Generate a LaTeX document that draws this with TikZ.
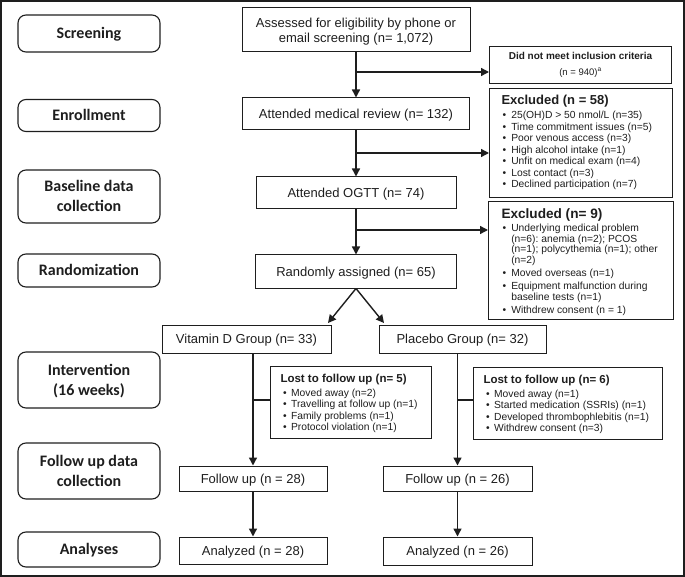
\documentclass[tikz,border=0pt]{standalone}
\usepackage{fontspec}
\setmainfont{Liberation Sans}
\newfontfamily\stagefont{Carlito}
\usetikzlibrary{arrows.meta,calc}
\definecolor{ink}{HTML}{1E1E1E}
\frenchspacing
\newcommand{\bul}{\textbullet}
\newcommand{\twolines}[2]{\begin{tabular}[b]{@{}c@{}}#1\\#2\end{tabular}}
\begin{document}
\begin{tikzpicture}[x=1pt,y=-1pt,
  stagebox/.style={draw=ink, line width=1.1pt, rounded corners=8pt, minimum width=142pt,
    inner sep=0pt, text=ink, font=\stagefont\bfseries\fontsize{16}{20}\selectfont,
    text height=10.3pt, text depth=0pt},
  stagetwo/.style={stagebox, text height=30.3pt},
  mainbox/.style={draw=ink, line width=1pt, inner sep=0pt, text=ink,
    font=\fontsize{13}{15}\selectfont, text height=9.3pt, text depth=0pt},
  maintwo/.style={mainbox, text height=24.3pt},
  sidebox/.style={draw=ink, line width=1pt, anchor=north west, inner ysep=0pt, text=ink,
    font=\fontsize{10.3}{11.5}\selectfont},
  flow/.style={draw=ink, line width=1.4pt},
  arr/.style={flow, -{Triangle[length=8pt,width=8pt]}}
]
\useasboundingbox (0,0) rectangle (685,577);
\draw[ink, line width=1.8pt] (1,1) rectangle (684,576);

% stage boxes
\node[stagebox, minimum height=37pt] (screen) at (89,33.5) {Screening};
\node[stagebox, minimum height=32pt] (enroll) at (89,115.5) {Enrollment};
\node[stagetwo, minimum height=53pt] (base) at (89,196.5) {\twolines{Baseline data}{collection}};
\node[stagebox, minimum height=33pt] (randz) at (89,270.5) {Randomization};
\node[stagetwo, minimum height=56pt] (interv) at (89,380) {\twolines{Intervention}{(16 weeks)}};
\node[stagetwo, minimum height=56pt] (fudc) at (89,471) {\twolines{Follow up data}{collection}};
\node[stagebox, minimum height=35pt] (anal) at (89,549.5) {Analyses};

% main column
\node[maintwo, minimum width=228pt, minimum height=44pt] (assess) at (356,30) {\twolines{Assessed for eligibility by phone or}{email screening (n= 1,072)}};
\node[mainbox, minimum width=227pt, minimum height=32pt] (medrev) at (356,114) {Attended medical review (n= 132)};
\node[mainbox, minimum width=200pt, minimum height=32pt] (ogtt) at (356,193) {Attended OGTT (n= 74)};
\node[mainbox, minimum width=201pt, minimum height=33pt] (rand) at (356,271.5) {Randomly assigned (n= 65)};
\node[mainbox, minimum width=169pt, minimum height=28pt] (vitd) at (246.5,339) {Vitamin D Group (n= 33)};
\node[mainbox, minimum width=167pt, minimum height=28pt] (plac) at (462.5,339) {Placebo Group (n= 32)};
\node[mainbox, minimum width=148pt, minimum height=25pt] (fu28) at (253,478.5) {Follow up (n = 28)};
\node[mainbox, minimum width=148pt, minimum height=27pt] (an28) at (253,550.5) {Analyzed (n = 28)};
\node[mainbox, minimum width=149pt, minimum height=25pt] (fu26) at (457.5,478.5) {Follow up (n = 26)};
\node[mainbox, minimum width=149pt, minimum height=28pt] (an26) at (457.5,551) {Analyzed (n = 26)};

% side boxes
\node[draw=ink, line width=1pt, anchor=north west, inner sep=0pt, text=ink,
  minimum width=182pt, minimum height=37pt, text height=20.5pt, text depth=0pt] (notmet) at (489,46)
  {\fontsize{10}{16}\selectfont\twolines{\bfseries Did not meet inclusion criteria}{\fontsize{9.5}{16}\selectfont(n = 940)\textsuperscript{a}}};

\node[sidebox, inner xsep=12pt, minimum height=109pt] (ex58) at (489,88) {\makebox[159pt][l]{%
\begin{tabular}{@{\hspace{1pt}}l@{\hspace{5.2pt}}l@{}}
\multicolumn{2}{@{}l@{}}{\bfseries\fontsize{13}{15}\selectfont Excluded (n = 58)}\\[3pt]
\bul & 25(OH)D > 50 nmol/L (n=35)\\
\bul & Time commitment issues (n=5)\\
\bul & Poor venous access (n=3)\\
\bul & High alcohol intake (n=1)\\
\bul & Unfit on medical exam (n=4)\\
\bul & Lost contact (n=3)\\
\bul & Declined participation (n=7)
\end{tabular}}};

\node[sidebox, inner xsep=13pt, minimum height=118pt, font=\fontsize{10.3}{10.4}\selectfont] (ex9) at (488,201) {\makebox[159pt][l]{%
\begin{tabular}{@{\hspace{1pt}}l@{\hspace{5.2pt}}l@{}}
\multicolumn{2}{@{}l@{}}{\rule{0pt}{14pt}\bfseries\fontsize{13.6}{15}\selectfont Excluded (n= 9)}\\[2.5pt]
\bul & Underlying medical problem\\
 & (n=6): anemia (n=2); PCOS\\
 & (n=1); polycythemia (n=1); other\\
 & (n=2)\\[2.6pt]
\bul & Moved overseas (n=1)\\[2.6pt]
\bul & Equipment malfunction during\\
 & baseline tests (n=1)\\[2.6pt]
\bul & Withdrew consent (n = 1)
\end{tabular}}};

\node[sidebox, inner xsep=10pt, minimum height=72pt] (lost5) at (270,366) {\makebox[141pt][l]{%
\begin{tabular}{@{\hspace{2.5pt}}l@{\hspace{4.5pt}}l@{}}
\multicolumn{2}{@{}l@{}}{\rule{0pt}{12pt}\bfseries\fontsize{11.5}{13}\selectfont Lost to follow up (n= 5)}\\[1.8pt]
\bul & Moved away (n=2)\\
\bul & Travelling at follow up (n=1)\\
\bul & Family problems (n=1)\\
\bul & Protocol violation (n=1)
\end{tabular}}};

\node[sidebox, inner xsep=10pt, minimum height=72pt] (lost6) at (473,367) {\makebox[169pt][l]{%
\begin{tabular}{@{\hspace{2.5pt}}l@{\hspace{4.5pt}}l@{}}
\multicolumn{2}{@{}l@{}}{\rule{0pt}{12pt}\bfseries\fontsize{11.5}{13}\selectfont Lost to follow up (n= 6)}\\[1.8pt]
\bul & Moved away (n=1)\\
\bul & Started medication (SSRIs) (n=1)\\
\bul & Developed thrombophlebitis (n=1)\\
\bul & Withdrew consent (n=3)
\end{tabular}}};

% connectors
\coordinate (b1) at (356,72);
\coordinate (b2) at (356,153);
\coordinate (b3) at (356,230);
\draw[arr] (assess.south) -- (medrev.north);
\draw[arr] (b1) -- (b1 -| notmet.west);
\draw[arr] (medrev.south) -- (ogtt.north);
\draw[arr] (b2) -- (b2 -| ex58.west);
\draw[arr] (ogtt.south) -- (rand.north);
\draw[arr] (b3) -- (b3 -| ex9.west);

\coordinate (dl) at (328,323);
\coordinate (dr) at (384,323);
\draw[arr] (rand.south) -- (dl);
\draw[arr] (rand.south) -- (dr);

\coordinate (t5) at (253,400);
\coordinate (t6) at (457.5,400);
\draw[arr] (fu28.north |- vitd.south) -- (fu28.north);
\draw[flow] (t5) -- (t5 -| lost5.west);
\draw[arr] (fu26.north |- plac.south) -- (fu26.north);
\draw[flow] (t6) -- (t6 -| lost6.west);
\draw[arr] (fu28.south) -- (an28.north);
\draw[arr] (fu26.south) -- (an26.north);
\end{tikzpicture}
\end{document}
